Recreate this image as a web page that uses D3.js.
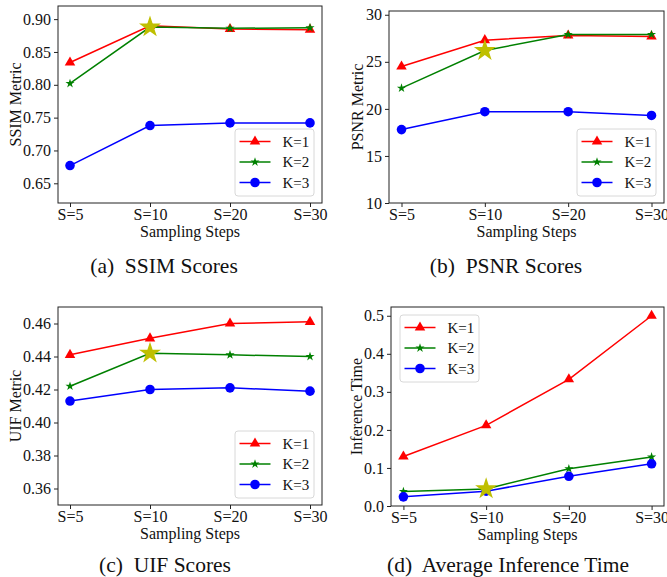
<!DOCTYPE html>
<html>
<head>
<meta charset="utf-8">
<script src="https://cdnjs.cloudflare.com/ajax/libs/d3/7.8.5/d3.min.js"></script>
<style>
  body { margin: 0; background: #fff; }
  svg { display: block; font-family: "Liberation Serif", "Times New Roman", serif; }
</style>
</head>
<body>
<div id="chart"></div>
<script>
// categories
const steps = ["S=5", "S=10", "S=20", "S=30"];
const seriesNames = ["K=1", "K=2", "K=3"];

// SSIM
const ssimK1 = [0.834, 0.890, 0.885, 0.884];
const ssimK2 = [0.802, 0.888, 0.886, 0.887];
const ssimK3 = [0.677, 0.738, 0.742, 0.742];
// PSNR
const psnrK1 = [24.5, 27.3, 27.8, 27.7];
const psnrK2 = [22.2, 26.2, 27.9, 27.9];
const psnrK3 = [17.8, 19.7, 19.7, 19.3];
// UIF
const uifK1 = [0.441, 0.451, 0.460, 0.461];
const uifK2 = [0.422, 0.442, 0.441, 0.440];
const uifK3 = [0.413, 0.420, 0.421, 0.419];
// inference time
const timeK1 = [0.130, 0.212, 0.333, 0.500];
const timeK2 = [0.038, 0.045, 0.098, 0.129];
const timeK3 = [0.024, 0.039, 0.078, 0.111];

// tick labels
const ssimTicks = [0.65, 0.70, 0.75, 0.80, 0.85, 0.90];
const psnrTicks = [10, 15, 20, 25, 30];
const uifTicks = [0.36, 0.38, 0.40, 0.42, 0.44, 0.46];
const timeTicks = [0.0, 0.1, 0.2, 0.3, 0.4, 0.5];

// highlighted point (S=10, K=2)
const bestStep = "S=10";

const colors = ["#ff0000", "#008000", "#0000ff"];
const shapes = [d3.symbolTriangle, d3.symbolStar, d3.symbolCircle];
const shapeSizes = [48, 26, 72];

const panels = [
  { box: [58, 6, 322, 203], domain: [0.62, 0.92], ticks: ssimTicks, fmt: d3.format(".2f"),
    series: [ssimK1, ssimK2, ssimK3], ylabel: "SSIM Metric", yOff: 37, caption: "(a)  SSIM Scores",
    legend: "br", capX: 164, capY: 273 },
  { box: [389, 11, 664, 203], domain: [10, 30.4], ticks: psnrTicks, fmt: d3.format("d"),
    series: [psnrK1, psnrK2, psnrK3], ylabel: "PSNR Metric", yOff: 26, caption: "(b)  PSNR Scores",
    legend: "br", capX: 506, capY: 273 },
  { box: [58, 307, 322, 505], domain: [0.35, 0.47], ticks: uifTicks, fmt: d3.format(".2f"),
    series: [uifK1, uifK2, uifK3], ylabel: "UIF Metric", yOff: 37, caption: "(c)  UIF Scores",
    legend: "br", capX: 165, capY: 572 },
  { box: [391, 307, 664, 506], domain: [0, 0.523], ticks: timeTicks, fmt: d3.format(".1f"),
    series: [timeK1, timeK2, timeK3], ylabel: "Inference Time", yOff: 29, caption: "(d)  Average Inference Time",
    legend: "tl", capX: 508, capY: 572 }
];

const svg = d3.select("#chart").append("svg")
  .attr("width", 667)
  .attr("height", 577);

panels.forEach(p => {
  const [x0, y0, x1, y1] = p.box;
  const g = svg.append("g");

  const x = d3.scalePoint().domain(steps).range([x0, x1]).padding(0.15);
  const y = d3.scaleLinear().domain(p.domain).range([y1, y0]);

  // axes
  const xAxis = g.append("g")
    .attr("transform", `translate(0,${y1})`)
    .call(d3.axisBottom(x).tickSize(4).tickPadding(2));
  const yAxis = g.append("g")
    .attr("transform", `translate(${x0},0)`)
    .call(d3.axisLeft(y).tickValues(p.ticks).tickFormat(p.fmt).tickSize(4).tickPadding(3));
  [xAxis, yAxis].forEach(a => {
    a.attr("font-family", null);
    a.select(".domain").remove();
    a.selectAll("line").attr("stroke", "#222");
    a.selectAll("text").attr("font-size", 16).attr("fill", "#111");
  });

  // frame
  g.append("rect")
    .attr("x", x0).attr("y", y0)
    .attr("width", x1 - x0).attr("height", y1 - y0)
    .attr("fill", "none").attr("stroke", "#222").attr("stroke-width", 1);

  // labels
  g.append("text")
    .attr("x", (x0 + x1) / 2).attr("y", y1 + 34)
    .attr("text-anchor", "middle").attr("font-size", 16).attr("fill", "#111")
    .text("Sampling Steps");
  g.append("text")
    .attr("transform", `translate(${x0 - p.yOff},${(y0 + y1) / 2}) rotate(-90)`)
    .attr("text-anchor", "middle").attr("font-size", 16).attr("fill", "#111")
    .text(p.ylabel);
  g.append("text")
    .attr("x", p.capX).attr("y", p.capY)
    .attr("text-anchor", "middle").attr("font-size", 21.5).attr("fill", "#111")
    .attr("xml:space", "preserve")
    .text(p.caption);

  // lines + markers
  const line = d3.line().x((d, i) => x(steps[i])).y(d => y(d));
  p.series.forEach((vals, k) => {
    g.append("path")
      .datum(vals)
      .attr("d", line)
      .attr("fill", "none")
      .attr("stroke", colors[k])
      .attr("stroke-width", 1.5);
    g.selectAll(null)
      .data(vals)
      .enter().append("path")
      .attr("d", d3.symbol().type(shapes[k]).size(shapeSizes[k]))
      .attr("transform", (d, i) => `translate(${x(steps[i])},${y(d)})`)
      .attr("fill", colors[k]);
  });

  // highlight star
  const bi = steps.indexOf(bestStep);
  g.append("path")
    .attr("d", d3.symbol().type(d3.symbolStar).size(150))
    .attr("transform", `translate(${x(bestStep)},${y(p.series[1][bi])})`)
    .attr("fill", "#bfbf00");

  // legend
  const lw = 79, lh = 67;
  const lx = p.legend === "br" ? x1 - 8 - lw : x0 + 9;
  const ly = p.legend === "br" ? y1 - 7 - lh : y0 + 8;
  const lg = g.append("g").attr("transform", `translate(${lx},${ly})`);
  lg.append("rect")
    .attr("width", lw).attr("height", lh).attr("rx", 3)
    .attr("fill", "#fff").attr("fill-opacity", 0.85)
    .attr("stroke", "#d8d8d8").attr("stroke-width", 1);
  seriesNames.forEach((name, k) => {
    const ry = 12.5 + k * 20.5;
    lg.append("line")
      .attr("x1", 4.5).attr("x2", 35.5).attr("y1", ry).attr("y2", ry)
      .attr("stroke", colors[k]).attr("stroke-width", 1.5);
    lg.append("path")
      .attr("d", d3.symbol().type(shapes[k]).size(shapeSizes[k]))
      .attr("transform", `translate(20,${ry})`)
      .attr("fill", colors[k]);
    lg.append("text")
      .attr("x", 47.5).attr("y", ry + 5)
      .attr("font-size", 15).attr("fill", "#111")
      .text(name);
  });
});
</script>
</body>
</html>
